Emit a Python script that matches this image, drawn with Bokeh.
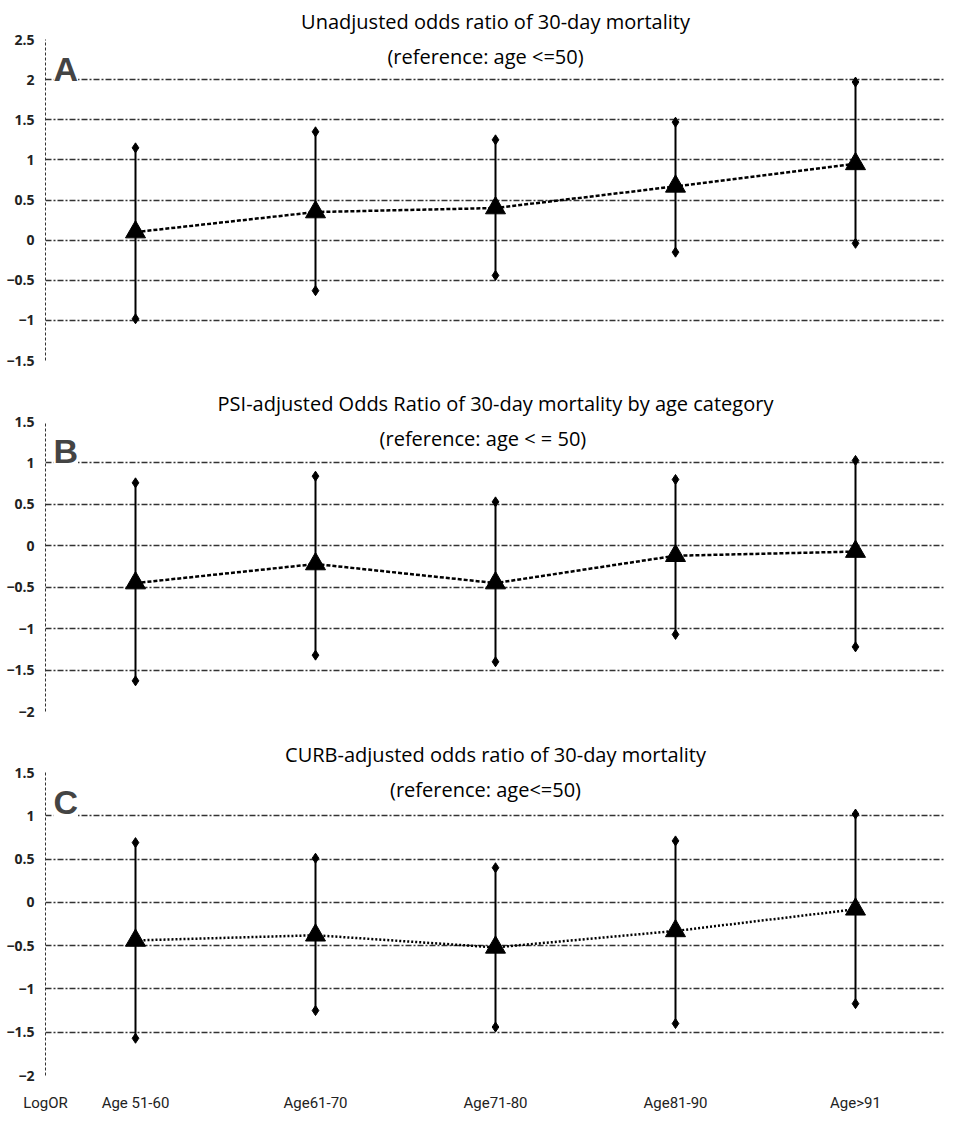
from bokeh.plotting import figure
from bokeh.layouts import column
from bokeh.models import Label, FixedTicker, Range1d
from bokeh.embed import file_html
from bokeh.resources import INLINE

categories = ["Age 51-60", "Age61-70", "Age71-80", "Age81-90", "Age>91"]
xpos = [1, 2, 3, 4, 5]

a_mean = [0.10, 0.35, 0.40, 0.67, 0.95]
a_upper = [1.15, 1.35, 1.25, 1.47, 1.97]
a_lower = [-0.98, -0.63, -0.44, -0.15, -0.04]

b_mean = [-0.45, -0.22, -0.45, -0.12, -0.07]
b_upper = [0.76, 0.84, 0.53, 0.80, 1.03]
b_lower = [-1.63, -1.32, -1.40, -1.07, -1.22]

c_mean = [-0.44, -0.38, -0.52, -0.33, -0.08]
c_upper = [0.69, 0.51, 0.40, 0.71, 1.02]
c_lower = [-1.57, -1.25, -1.44, -1.40, -1.17]

panels = [
    dict(letter="A", t1="Unadjusted odds ratio of 30-day mortality", t2="(reference: age <=50)",
         mean=a_mean, up=a_upper, lo=a_lower, ymin=-1.5, ymax=2.5, fh=321, dash="4 2",
         ticks=[-1.5, -1, -0.5, 0, 0.5, 1, 1.5, 2, 2.5], bottom=False, top=4),
    dict(letter="B", t1="PSI-adjusted Odds Ratio of 30-day mortality by age category", t2="(reference: age  < = 50)",
         mean=b_mean, up=b_upper, lo=b_lower, ymin=-2, ymax=1.5, fh=290, dash="4 2",
         ticks=[-2, -1.5, -1, -0.5, 0, 0.5, 1, 1.5], bottom=False, top=4),
    dict(letter="C", t1="CURB-adjusted odds ratio of 30-day mortality", t2="(reference: age<=50)",
         mean=c_mean, up=c_upper, lo=c_lower, ymin=-2, ymax=1.5, fh=303, dash="2 2",
         ticks=[-2, -1.5, -1, -0.5, 0, 0.5, 1, 1.5], bottom=True, top=13),
]

figs = []
for pn in panels:
    p = figure(frame_width=900, frame_height=pn["fh"], output_backend="svg", toolbar_location=None,
               x_range=Range1d(0.5, 5.5), y_range=Range1d(pn["ymin"], pn["ymax"]),
               min_border_left=45, min_border_right=0, min_border_top=pn["top"],
               min_border_bottom=32 if pn["bottom"] else 22)
    p.title.text = pn["t1"]
    p.title.align = "center"
    p.title.text_font = "Open Sans"
    p.title.text_font_size = "20px"
    p.title.text_font_style = "normal"
    p.title.text_color = "black"
    p.outline_line_color = None
    p.xgrid.grid_line_color = None
    p.ygrid.grid_line_color = "#333333"
    p.ygrid.grid_line_dash = "6 2 2 2"
    p.ygrid.grid_line_width = 1.5
    p.yaxis.ticker = FixedTicker(ticks=pn["ticks"])
    p.yaxis.major_tick_line_color = None
    p.yaxis.minor_tick_line_color = None
    p.yaxis.axis_line_dash = "3 2"
    p.yaxis.axis_line_color = "#333333"
    p.yaxis.major_label_text_font = "Open Sans"
    p.yaxis.major_label_text_font_style = "bold"
    p.yaxis.major_label_text_font_size = "14px"
    p.yaxis.major_label_text_color = "#222222"
    if pn["bottom"]:
        p.xaxis.ticker = FixedTicker(ticks=[0.5] + xpos)
        p.xaxis.major_label_overrides = {0.5: "LogOR", **{x: c for x, c in zip(xpos, categories)}}
        p.xaxis.axis_line_color = None
        p.xaxis.major_tick_line_color = None
        p.xaxis.minor_tick_line_color = None
        p.xaxis.major_label_text_font = "Roboto"
        p.xaxis.major_label_text_font_size = "15px"
        p.xaxis.major_label_standoff = 12
        p.xaxis.major_label_text_color = "#222222"
    else:
        p.xaxis.visible = False
    p.segment(x0=xpos, y0=pn["lo"], x1=xpos, y1=pn["up"], line_color="black", line_width=2)
    p.scatter(xpos, pn["up"], marker="diamond", size=10, color="black")
    p.scatter(xpos, pn["lo"], marker="diamond", size=10, color="black")
    p.line(xpos, pn["mean"], line_color="black", line_width=2.5, line_dash=pn["dash"])
    p.scatter(xpos, pn["mean"], marker="triangle", size=20, color="black")
    p.add_layout(Label(x=440, y=pn["fh"] - 30, x_units="screen", y_units="screen", text=pn["t2"],
                       text_align="center", text_font="Open Sans", text_font_size="20px",
                       text_color="black", background_fill_color="white"))
    p.add_layout(Label(x=8, y=pn["fh"] - 48, x_units="screen", y_units="screen", text=pn["letter"],
                       text_font="Liberation Sans", text_font_style="bold", text_font_size="34px",
                       background_fill_color="white"))
    figs.append(p)

layout = column(*figs, spacing=0)
open("out.html", "w").write(file_html(layout, INLINE))
